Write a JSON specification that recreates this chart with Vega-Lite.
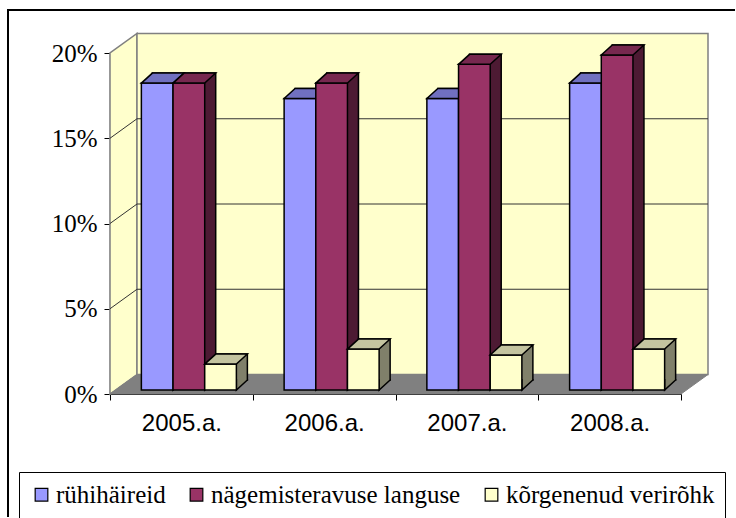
{
  "$schema": "https://vega.github.io/schema/vega-lite/v6.json",
  "width": 571,
  "height": 341,
  "autosize": {"type": "none"},
  "padding": {"left": 110, "top": 53, "right": 55, "bottom": 124},
  "background": "white",
  "config": {
    "view": {"stroke": null},
    "axis": {"grid": false, "tickColor": "black", "tickSize": 6, "labelColor": "black", "zindex": 1},
    "axisY": {"domainColor": "#808080", "domainWidth": 1.5, "labelFont": "Liberation Serif", "labelFontSize": 25, "labelPadding": 7},
    "axisX": {"domainColor": "black", "labelFont": "Liberation Sans", "labelFontSize": 24, "labelPadding": 11, "labelAngle": 0, "tickBand": "extent"}
  },
  "datasets": {
    "bars": [
      {"year": "2005.a.", "series": "rühihäireid", "value": 0.18},
      {"year": "2005.a.", "series": "nägemisteravuse languse", "value": 0.18},
      {"year": "2005.a.", "series": "kõrgenenud verirõhk", "value": 0.0152},
      {"year": "2006.a.", "series": "rühihäireid", "value": 0.171},
      {"year": "2006.a.", "series": "nägemisteravuse languse", "value": 0.18},
      {"year": "2006.a.", "series": "kõrgenenud verirõhk", "value": 0.024},
      {"year": "2007.a.", "series": "rühihäireid", "value": 0.171},
      {"year": "2007.a.", "series": "nägemisteravuse languse", "value": 0.191},
      {"year": "2007.a.", "series": "kõrgenenud verirõhk", "value": 0.0205},
      {"year": "2008.a.", "series": "rühihäireid", "value": 0.18},
      {"year": "2008.a.", "series": "nägemisteravuse languse", "value": 0.1965},
      {"year": "2008.a.", "series": "kõrgenenud verirõhk", "value": 0.024}
    ],
    "levels": [{"level": 0.05}, {"level": 0.1}, {"level": 0.15}]
  },
  "layer": [
    {
      "data": {"values": [{}]},
      "mark": {"type": "point", "shape": "M0,0L0,-341L27,-360.5L27,-19.5Z", "size": 4, "filled": true, "fill": "#FFFFCC", "stroke": "#808080", "strokeWidth": 1.5, "opacity": 1},
      "encoding": {
        "x": {"datum": "2005.a.", "type": "nominal", "bandPosition": 0, "title": null,
              "scale": {"type": "band", "domain": ["2005.a.", "2006.a.", "2007.a.", "2008.a."], "paddingInner": 0, "paddingOuter": 0}},
        "y": {"datum": 0, "type": "quantitative", "title": null,
              "scale": {"domain": [0, 0.2], "nice": false},
              "axis": {"values": [0, 0.05, 0.1, 0.15, 0.2], "format": ".0%"}}
      }
    },
    {
      "data": {"values": [{}]},
      "mark": {"type": "point", "shape": "M27,-19.5L27,-360.5L598,-360.5L598,-19.5Z", "size": 4, "filled": true, "fill": "#FFFFCC", "stroke": "#808080", "strokeWidth": 1.5, "opacity": 1},
      "encoding": {
        "x": {"datum": "2005.a.", "type": "nominal", "bandPosition": 0, "title": null},
        "y": {"datum": 0, "type": "quantitative", "title": null}
      }
    },
    {
      "data": {"values": [{}]},
      "mark": {"type": "point", "shape": "M0,0L27,-19.5L598,-19.5L571,0Z", "size": 4, "filled": true, "fill": "#808080", "stroke": "#808080", "strokeWidth": 1, "opacity": 1},
      "encoding": {
        "x": {"datum": "2005.a.", "type": "nominal", "bandPosition": 0, "title": null},
        "y": {"datum": 0, "type": "quantitative", "title": null}
      }
    },
    {
      "data": {"name": "levels"},
      "mark": {"type": "point", "shape": "M0,0L27,-19.5L598,-19.5", "size": 4, "filled": false, "stroke": "#333333", "strokeWidth": 1, "opacity": 1},
      "encoding": {
        "x": {"datum": "2005.a.", "type": "nominal", "bandPosition": 0, "title": null},
        "y": {"field": "level", "type": "quantitative", "title": null}
      }
    },

    {
      "data": {"name": "bars"},
      "transform": [{"filter": {"field": "series", "equal": "rühihäireid"}}],
      "mark": {"type": "bar", "width": 31.67, "xOffset": -13.17, "yOffset": -14, "y2Offset": -14, "fill": "#4C4C80", "stroke": "black", "strokeWidth": 1.5},
      "encoding": {
        "x": {"field": "year", "type": "nominal", "title": null},
        "y": {"field": "value", "type": "quantitative", "title": null}
      }
    },
    {
      "data": {"name": "bars"},
      "transform": [{"filter": {"field": "series", "equal": "rühihäireid"}}],
      "mark": {"type": "point", "shape": "M0,-11L0,0L11,-10L11,-11", "size": 4, "filled": true, "fill": "#4C4C80", "stroke": "black", "strokeWidth": 1.5, "opacity": 1, "xOffset": -8.33, "yOffset": -4},
      "encoding": {
        "x": {"field": "year", "type": "nominal", "title": null},
        "y": {"datum": 0, "type": "quantitative", "title": null}
      }
    },
    {
      "data": {"name": "bars"},
      "transform": [{"filter": {"field": "series", "equal": "rühihäireid"}}],
      "mark": {"type": "bar", "width": 31.67, "xOffset": -24.17, "yOffset": -4, "y2Offset": -4, "stroke": "black", "strokeWidth": 1.5, "opacity": 1},
      "encoding": {
        "x": {"field": "year", "type": "nominal", "title": null},
        "y": {"field": "value", "type": "quantitative", "title": null},
        "color": {"field": "series", "type": "nominal",
                  "scale": {"domain": ["rühihäireid", "nägemisteravuse languse", "kõrgenenud verirõhk"], "range": ["#9999FF", "#993366", "#FFFFCC"]},
                  "legend": {"orient": "none", "legendX": -91, "legendY": 419, "direction": "horizontal", "title": null,
                             "padding": 10, "strokeColor": "black", "fillColor": "white",
                             "symbolType": "square", "symbolSize": 160, "symbolStrokeColor": "black", "symbolStrokeWidth": 1.2,
                             "labelFont": "Liberation Serif", "labelFontSize": 25, "labelColor": "black", "labelOffset": 2,
                             "labelLimit": 400, "columnPadding": 18}}
      }
    },
    {
      "data": {"name": "bars"},
      "transform": [{"filter": {"field": "series", "equal": "rühihäireid"}}],
      "mark": {"type": "point", "shape": "M0,0L31.67,0L42.67,-10L11,-10Z", "size": 4, "filled": true, "fill": "#7070C0", "stroke": "black", "strokeWidth": 1.5, "opacity": 1, "xOffset": -40, "yOffset": -4},
      "encoding": {
        "x": {"field": "year", "type": "nominal", "title": null},
        "y": {"field": "value", "type": "quantitative", "title": null}
      }
    },

    {
      "data": {"name": "bars"},
      "transform": [{"filter": {"field": "series", "equal": "nägemisteravuse languse"}}],
      "mark": {"type": "bar", "width": 31.67, "xOffset": 18.5, "yOffset": -14, "y2Offset": -14, "fill": "#4D1A33", "stroke": "black", "strokeWidth": 1.5},
      "encoding": {
        "x": {"field": "year", "type": "nominal", "title": null},
        "y": {"field": "value", "type": "quantitative", "title": null}
      }
    },
    {
      "data": {"name": "bars"},
      "transform": [{"filter": {"field": "series", "equal": "nägemisteravuse languse"}}],
      "mark": {"type": "point", "shape": "M0,-11L0,0L11,-10L11,-11", "size": 4, "filled": true, "fill": "#4D1A33", "stroke": "black", "strokeWidth": 1.5, "opacity": 1, "xOffset": 23.33, "yOffset": -4},
      "encoding": {
        "x": {"field": "year", "type": "nominal", "title": null},
        "y": {"datum": 0, "type": "quantitative", "title": null}
      }
    },
    {
      "data": {"name": "bars"},
      "transform": [{"filter": {"field": "series", "equal": "nägemisteravuse languse"}}],
      "mark": {"type": "bar", "width": 31.67, "xOffset": 7.5, "yOffset": -4, "y2Offset": -4, "stroke": "black", "strokeWidth": 1.5, "opacity": 1},
      "encoding": {
        "x": {"field": "year", "type": "nominal", "title": null},
        "y": {"field": "value", "type": "quantitative", "title": null},
        "color": {"field": "series", "type": "nominal"}
      }
    },
    {
      "data": {"name": "bars"},
      "transform": [{"filter": {"field": "series", "equal": "nägemisteravuse languse"}}],
      "mark": {"type": "point", "shape": "M0,0L31.67,0L42.67,-10L11,-10Z", "size": 4, "filled": true, "fill": "#77284F", "stroke": "black", "strokeWidth": 1.5, "opacity": 1, "xOffset": -8.33, "yOffset": -4},
      "encoding": {
        "x": {"field": "year", "type": "nominal", "title": null},
        "y": {"field": "value", "type": "quantitative", "title": null}
      }
    },

    {
      "data": {"name": "bars"},
      "transform": [{"filter": {"field": "series", "equal": "kõrgenenud verirõhk"}}],
      "mark": {"type": "bar", "width": 31.67, "xOffset": 50.17, "yOffset": -14, "y2Offset": -14, "fill": "#80806A", "stroke": "black", "strokeWidth": 1.5},
      "encoding": {
        "x": {"field": "year", "type": "nominal", "title": null},
        "y": {"field": "value", "type": "quantitative", "title": null}
      }
    },
    {
      "data": {"name": "bars"},
      "transform": [{"filter": {"field": "series", "equal": "kõrgenenud verirõhk"}}],
      "mark": {"type": "point", "shape": "M0,-11L0,0L11,-10L11,-11", "size": 4, "filled": true, "fill": "#80806A", "stroke": "black", "strokeWidth": 1.5, "opacity": 1, "xOffset": 55, "yOffset": -4},
      "encoding": {
        "x": {"field": "year", "type": "nominal", "title": null},
        "y": {"datum": 0, "type": "quantitative", "title": null}
      }
    },
    {
      "data": {"name": "bars"},
      "transform": [{"filter": {"field": "series", "equal": "kõrgenenud verirõhk"}}],
      "mark": {"type": "bar", "width": 31.67, "xOffset": 39.17, "yOffset": -4, "y2Offset": -4, "stroke": "black", "strokeWidth": 1.5, "opacity": 1},
      "encoding": {
        "x": {"field": "year", "type": "nominal", "title": null},
        "y": {"field": "value", "type": "quantitative", "title": null},
        "color": {"field": "series", "type": "nominal"}
      }
    },
    {
      "data": {"name": "bars"},
      "transform": [{"filter": {"field": "series", "equal": "kõrgenenud verirõhk"}}],
      "mark": {"type": "point", "shape": "M0,0L31.67,0L42.67,-10L11,-10Z", "size": 4, "filled": true, "fill": "#C4C4A0", "stroke": "black", "strokeWidth": 1.5, "opacity": 1, "xOffset": 23.33, "yOffset": -4},
      "encoding": {
        "x": {"field": "year", "type": "nominal", "title": null},
        "y": {"field": "value", "type": "quantitative", "title": null}
      }
    },

    {
      "data": {"values": [{}]},
      "mark": {"type": "point", "shape": "M-102,464L-102,-43L625,-43", "size": 4, "filled": false, "stroke": "black", "strokeWidth": 2, "opacity": 1},
      "encoding": {
        "x": {"datum": "2005.a.", "type": "nominal", "bandPosition": 0, "title": null},
        "y": {"datum": 0.2, "type": "quantitative", "title": null}
      }
    }
  ]
}
